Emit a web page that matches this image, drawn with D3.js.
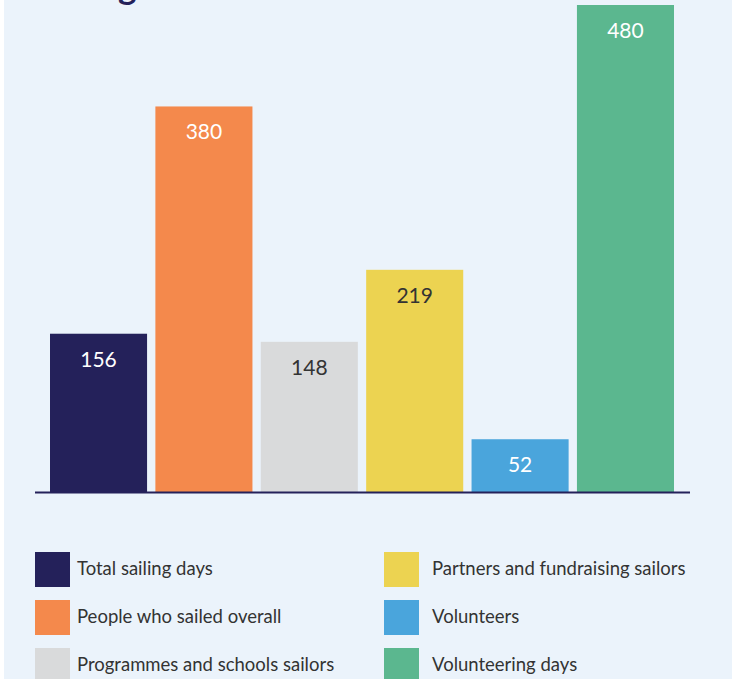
<!DOCTYPE html>
<html>
<head>
<meta charset="utf-8">
<script src="https://cdn.jsdelivr.net/npm/d3@7"></script>
<style>
  html, body { margin: 0; padding: 0; background: #fff; }
  svg { display: block; font-family: Lato, "Open Sans", sans-serif; }
</style>
</head>
<body>
<div id="vis-display"></div>
<script>
// Six headline figures, one bar each, legend underneath.

const CATEGORIES = [
  "Total sailing days",
  "People who sailed overall",
  "Programmes and schools sailors",
  "Partners and fundraising sailors",
  "Volunteers",
  "Volunteering days",
];

const VALUES = [156, 380, 148, 219, 52, 480];

const COLORS = ["#24215a", "#f4894c", "#d9dadb", "#ecd351", "#4aa5dc", "#5bb78f"];
const LABEL_COLORS = ["#fff", "#fff", "#333", "#333", "#fff", "#fff"];

const TITLE = "Sailing and volunteers";

const W = 738, H = 679;
const BASE_Y = 492;

const svg = d3.select("#vis-display").append("svg")
  .attr("width", W)
  .attr("height", H);

// panel background
svg.append("rect")
  .attr("x", 4).attr("y", 0)
  .attr("width", 728).attr("height", H)
  .attr("fill", "#ebf3fb");

// title, mostly scrolled off the top
svg.append("text")
  .attr("x", 35).attr("y", -1)
  .style("font-size", "35px")
  .style("font-weight", "bold")
  .style("fill", "#24215a")
  .text(TITLE);

// ── Scales ────────────────────────────────────────────────────────────────

const x = d3.scaleBand()
  .domain(CATEGORIES)
  .range([50, 674])
  .paddingInner(0.079)
  .paddingOuter(0);

const y = d3.scaleLinear()
  .domain([0, 480])
  .range([BASE_Y, 5]);

const color = d3.scaleOrdinal().domain(CATEGORIES).range(COLORS);

const data = CATEGORIES.map((c, i) => ({ cat: c, value: VALUES[i], lab: LABEL_COLORS[i] }));

// ── Bars ──────────────────────────────────────────────────────────────────

svg.append("g")
  .selectAll("rect")
  .data(data)
  .join("rect")
    .attr("x", d => x(d.cat))
    .attr("y", d => y(d.value))
    .attr("width", x.bandwidth())
    .attr("height", d => y(0) - y(d.value))
    .attr("fill", d => color(d.cat));

svg.append("g")
  .selectAll("text")
  .data(data)
  .join("text")
    .attr("x", d => x(d.cat) + x.bandwidth() / 2)
    .attr("y", d => y(d.value) + 33)
    .attr("text-anchor", "middle")
    .style("font-size", "21px")
    .style("fill", d => d.lab)
    .text(d => d.value);

// baseline
svg.append("line")
  .attr("x1", 35).attr("x2", 690)
  .attr("y1", y(0) + 0.5).attr("y2", y(0) + 0.5)
  .attr("stroke", "#24215a")
  .attr("stroke-width", 2);

// ── Legend ────────────────────────────────────────────────────────────────

const legend = svg.append("g")
  .selectAll("g")
  .data(data)
  .join("g")
    .attr("transform", (d, i) => {
      const col = Math.floor(i / 3), row = i % 3;
      return `translate(${col === 0 ? 35 : 384},${552 + row * 48})`;
    });

legend.append("rect")
  .attr("width", 35).attr("height", 35)
  .attr("fill", d => color(d.cat));

legend.append("text")
  .attr("x", (d, i) => i < 3 ? 42 : 48)
  .attr("y", 16)
  .attr("dominant-baseline", "central")
  .style("font-size", "18.5px")
  .style("fill", "#333")
  .text(d => d.cat);
</script>
</body>
</html>
